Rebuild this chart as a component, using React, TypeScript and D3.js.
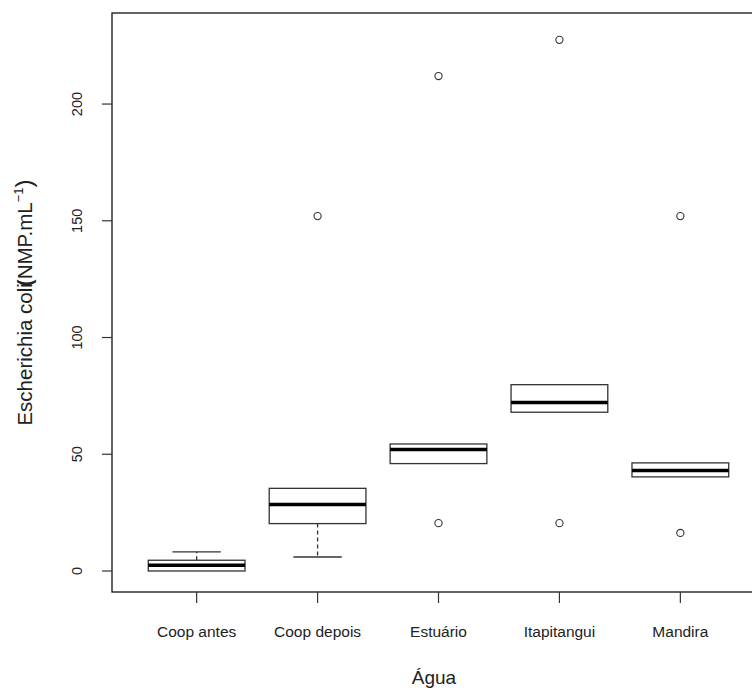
import React, { useEffect, useRef } from "react";
import * as d3 from "d3";

// Box summary
const categories = ["Coop antes", "Coop depois", "Estuário", "Itapitangui", "Mandira"];
const lowerWhisker = [0, 6, 46, 68, 40.3];
const q1 = [0, 20.3, 46, 68, 40.3];
const median = [2.5, 28.5, 52, 72.2, 43];
const q3 = [4.6, 35.4, 54.4, 79.8, 46.3];
const upperWhisker = [8.2, 35.4, 54.4, 79.8, 46.3];
const outliers = [[], [152], [20.5, 212], [20.5, 227.5], [16.3, 152]];
const yTicks = [0, 50, 100, 150, 200];

const FONT = "'Liberation Sans', Arial, sans-serif";

const App = () => {
  const svgRef = useRef<SVGSVGElement>(null);

  useEffect(() => {
    const svg = d3.select(svgRef.current);
    svg.selectAll("*").remove();

    const left = 112;
    const top = 13;
    const bottom = 592;
    const right = 765; // frame runs past the right edge of the image

    const x = d3.scaleLinear().domain([0.3, 5.7]).range([left, right]);
    const y = d3.scaleLinear().domain([-9, 239]).range([bottom, top]);
    const boxHalf = x(1.4) - x(1);
    const capHalf = boxHalf / 2;

    // frame
    svg
      .append("rect")
      .attr("x", left)
      .attr("y", top)
      .attr("width", right - left)
      .attr("height", bottom - top)
      .attr("fill", "none")
      .attr("stroke", "#111")
      .attr("stroke-width", 1.3);

    // boxes
    categories.forEach((c, i) => {
      const cx = x(i + 1);
      const g = svg.append("g");

      // whiskers
      if (upperWhisker[i] > q3[i]) {
        g.append("line")
          .attr("x1", cx).attr("x2", cx)
          .attr("y1", y(q3[i])).attr("y2", y(upperWhisker[i]))
          .attr("stroke", "#333").attr("stroke-width", 1.3)
          .attr("stroke-dasharray", "4,3");
        g.append("line")
          .attr("x1", cx - capHalf).attr("x2", cx + capHalf)
          .attr("y1", y(upperWhisker[i])).attr("y2", y(upperWhisker[i]))
          .attr("stroke", "#333").attr("stroke-width", 1.3);
      }
      if (lowerWhisker[i] < q1[i]) {
        g.append("line")
          .attr("x1", cx).attr("x2", cx)
          .attr("y1", y(q1[i])).attr("y2", y(lowerWhisker[i]))
          .attr("stroke", "#333").attr("stroke-width", 1.3)
          .attr("stroke-dasharray", "4,3");
        g.append("line")
          .attr("x1", cx - capHalf).attr("x2", cx + capHalf)
          .attr("y1", y(lowerWhisker[i])).attr("y2", y(lowerWhisker[i]))
          .attr("stroke", "#333").attr("stroke-width", 1.3);
      }

      g.append("rect")
        .attr("x", cx - boxHalf)
        .attr("y", y(q3[i]))
        .attr("width", boxHalf * 2)
        .attr("height", y(q1[i]) - y(q3[i]))
        .attr("fill", "white")
        .attr("stroke", "#333")
        .attr("stroke-width", 1.3);

      g.append("line")
        .attr("x1", cx - boxHalf).attr("x2", cx + boxHalf)
        .attr("y1", y(median[i])).attr("y2", y(median[i]))
        .attr("stroke", "#000").attr("stroke-width", 3.5);

      g.selectAll("circle.out")
        .data(outliers[i])
        .enter()
        .append("circle")
        .attr("cx", cx)
        .attr("cy", (d) => y(d))
        .attr("r", 3.6)
        .attr("fill", "none")
        .attr("stroke", "#333")
        .attr("stroke-width", 1.1);
    });

    // y axis ticks and labels
    const yAxis = svg.append("g");
    yAxis
      .selectAll("line")
      .data(yTicks)
      .enter()
      .append("line")
      .attr("x1", left - 10)
      .attr("x2", left)
      .attr("y1", (d) => y(d))
      .attr("y2", (d) => y(d))
      .attr("stroke", "#333")
      .attr("stroke-width", 1.2);
    yAxis
      .selectAll("text")
      .data(yTicks)
      .enter()
      .append("text")
      .attr("transform", (d) => `translate(82,${y(d)}) rotate(-90)`)
      .attr("text-anchor", "middle")
      .attr("font-family", FONT)
      .attr("font-size", 14.5)
      .attr("fill", "#222")
      .text((d) => d);

    // x axis ticks and labels
    const xAxis = svg.append("g");
    xAxis
      .selectAll("line")
      .data(categories)
      .enter()
      .append("line")
      .attr("x1", (_, i) => x(i + 1))
      .attr("x2", (_, i) => x(i + 1))
      .attr("y1", bottom)
      .attr("y2", bottom + 11)
      .attr("stroke", "#333")
      .attr("stroke-width", 1.2);
    xAxis
      .selectAll("text")
      .data(categories)
      .enter()
      .append("text")
      .attr("x", (_, i) => x(i + 1))
      .attr("y", 637)
      .attr("text-anchor", "middle")
      .attr("font-family", FONT)
      .attr("font-size", 15.5)
      .attr("fill", "#222")
      .text((d) => d);

    // axis titles
    svg
      .append("text")
      .attr("x", (left + 752) / 2 + 2)
      .attr("y", 684)
      .attr("text-anchor", "middle")
      .attr("font-family", FONT)
      .attr("font-size", 19)
      .attr("fill", "#222")
      .text("Água");

    const yTitle = svg
      .append("text")
      .attr("transform", `translate(32,${(top + bottom) / 2}) rotate(-90)`)
      .attr("text-anchor", "middle")
      .attr("font-family", FONT)
      .attr("font-size", 20.5)
      .attr("fill", "#222");
    yTitle.append("tspan").text("Escherichia coli");
    yTitle.append("tspan").attr("font-weight", "bold").attr("dx", -3).text("(");
    yTitle.append("tspan").text("NMP.mL");
    yTitle
      .append("tspan")
      .attr("font-size", 13)
      .attr("dy", -9)
      .text("−1");
    yTitle.append("tspan").attr("dy", 9).attr("font-size", 24).text(")");
  }, []);

  return (
    <svg
      ref={svgRef}
      width={752}
      height={688}
      style={{ position: "absolute", left: 0, top: 0, background: "white" }}
    />
  );
};

export default App;
